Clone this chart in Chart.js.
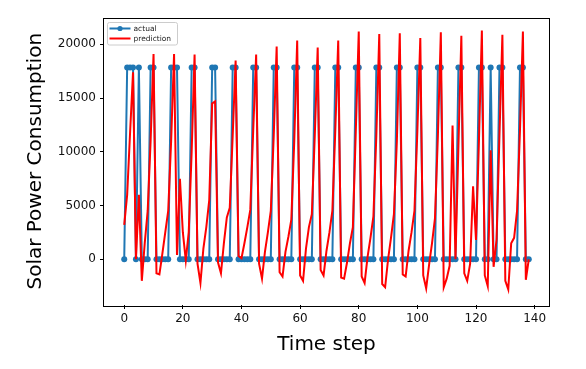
<!DOCTYPE html>
<html>
<head>
<meta charset="utf-8">
<script src="https://cdn.jsdelivr.net/npm/chart.js@4.4.1/dist/chart.umd.min.js"></script>
<style>
  body { margin: 0; background: #fff; }
</style>
</head>
<body>
<canvas id="solar_chart" width="586" height="369"></canvas>
<script>
// values, one per time step (0..138)
var actual = [
  0, 17850, 17850, 17850, 0, 17850, 0, 0, 0, 17850,
  17850, 0, 0, 0, 0, 0, 17850, 17850, 17850, 0,
  0, 0, 0, 17850, 17850, 0, 0, 0, 0, 0,
  17850, 17850, 0, 0, 0, 0, 0, 17850, 17850, 0,
  0, 0, 0, 0, 17850, 17850, 0, 0, 0, 0,
  0, 17850, 17850, 0, 0, 0, 0, 0, 17850, 17850,
  0, 0, 0, 0, 0, 17850, 17850, 0, 0, 0,
  0, 0, 17850, 17850, 0, 0, 0, 0, 0, 17850,
  17850, 0, 0, 0, 0, 0, 17850, 17850, 0, 0,
  0, 0, 0, 17850, 17850, 0, 0, 0, 0, 0,
  17850, 17850, 0, 0, 0, 0, 0, 17850, 17850, 0,
  0, 0, 0, 0, 17850, 17850, 0, 0, 0, 0,
  0, 17850, 17850, 0, 0, 17850, 0, 0, 17850, 17850,
  0, 0, 0, 0, 0, 17850, 17850, 0, 0
];
var prediction = [
  3200, 6000, 11800, 17400, 0, 6000, -2000, 1500, 4500, 11000,
  19100, -1300, -1400, 500, 2500, 4500, 11000, 19100, 400, 7500,
  2500, -100, 2500, 10000, 19050, -400, -2200, 1000, 3000, 5500,
  14500, 14700, -300, -1300, 1500, 3900, 4800, 11500, 18500, 300,
  100, 1500, 3000, 4600, 12000, 19050, -400, -1800, 700, 2500,
  4500, 11500, 19800, -1200, -1600, 700, 2100, 3700, 11000, 20350,
  -1500, -2000, 1000, 3000, 4200, 11500, 19700, -1000, -1500, 800,
  2500, 4500, 12000, 20350, -1700, -1800, -300, 1500, 3000, 12000,
  21200, -1600, -2200, 200, 2000, 4000, 11500, 20970, -2300, -2600,
  0, 2000, 4200, 11000, 21030, -1400, -1600, 800, 2500, 4500,
  12000, 20600, -1500, -2700, -500, 1500, 3800, 11500, 21120, -2600,
  -1800, -600, 12460, 0, 10500, 20800, -1300, -2000, -400, 6800,
  1800, 11000, 21280, -1500, -2500, 10140, -700, 1800, 11500, 20900,
  -2000, -2800, 1500, 2000, 4500, 12000, 21200, -1900, 0
];
var seriesNames = ["actual", "prediction"];
var xTicks = [0, 20, 40, 60, 80, 100, 120, 140];
var yTicks = [0, 5000, 10000, 15000, 20000];

function toPoints(values){
	return values.map(function(v, i){ return {x: i, y: v}; });
}

// matplotlib style frame + legend box in the upper left corner
var frameAndLegend = {
	id: "frameAndLegend",
	afterDatasetsDraw: function(chart){
		var ctx = chart.ctx;
		var area = chart.chartArea;
		ctx.save();
		ctx.strokeStyle = "#000";
		ctx.lineWidth = 1;
		ctx.strokeRect(Math.round(area.left) - 0.5, Math.round(area.top) + 0.5,
			Math.round(area.right - area.left) + 1, Math.round(area.bottom - area.top));

		var bx = area.left + 3.5, by = area.top + 5;
		ctx.fillStyle = "rgba(255,255,255,0.8)";
		ctx.strokeStyle = "#cccccc";
		ctx.beginPath();
		ctx.roundRect(bx, by, 70, 22.5, 2);
		ctx.fill();
		ctx.stroke();

		ctx.font = "7.5px 'DejaVu Sans'";
		ctx.textBaseline = "middle";
		chart.data.datasets.forEach(function(ds, i){
			var ly = by + 6 + i * 10;
			ctx.strokeStyle = ds.borderColor;
			ctx.lineWidth = 2;
			ctx.beginPath();
			ctx.moveTo(bx + 2, ly);
			ctx.lineTo(bx + 23, ly);
			ctx.stroke();
			if (ds.pointRadius > 0){
				ctx.fillStyle = ds.pointBackgroundColor;
				ctx.beginPath();
				ctx.arc(bx + 12.5, ly, 2.6, 0, Math.PI * 2);
				ctx.fill();
			}
			ctx.fillStyle = "#222";
			ctx.fillText(ds.label, bx + 26, ly + 0.5);
		});
		ctx.restore();
	}
};

var ctxS = document.getElementById("solar_chart").getContext("2d");

var solarChart = new Chart(ctxS, {
	type: "line",
	data: {
		datasets: [
			{
				label: seriesNames[0],
				data: toPoints(actual),
				borderColor: "#1f77b4",
				borderWidth: 2,
				pointRadius: 3,
				pointBackgroundColor: "#1f77b4",
				pointBorderWidth: 0,
				tension: 0,
				order: 2
			},
			{
				label: seriesNames[1],
				data: toPoints(prediction),
				borderColor: "#ff0000",
				borderWidth: 2,
				pointRadius: 0,
				tension: 0,
				order: 1
			}
		]
	},
	options: {
		responsive: false,
		animation: false,
		layout: {
			padding: {left: 20, right: 37, top: 17.5, bottom: 8}
		},
		plugins: {
			legend: { display: false },
			tooltip: { enabled: false }
		},
		scales: {
			x: {
				type: "linear",
				min: -6.9,
				max: 144.9,
				afterBuildTicks: function(scale){
					scale.ticks = xTicks.map(function(v){ return {value: v}; });
				},
				afterFit: function(scale){ scale.height = 56; },
				grid: { drawOnChartArea: false, drawTicks: true, tickLength: 4, color: "#000" },
				border: { display: false },
				ticks: { padding: 3, color: "#111", font: {family: "DejaVu Sans", size: 12}, maxRotation: 0,
					callback: function(v){ return String(v); } },
				title: { display: true, text: "Time step", color: "#000", font: {family: "DejaVu Sans", size: 20}, padding: 4 }
			},
			y: {
				min: -4250,
				max: 22500,
				afterBuildTicks: function(scale){
					scale.ticks = yTicks.map(function(v){ return {value: v}; });
				},
				afterFit: function(scale){ scale.width = 84; },
				grid: { drawOnChartArea: false, drawTicks: true, tickLength: 4, color: "#000" },
				border: { display: false },
				ticks: { padding: 4, color: "#111", font: {family: "DejaVu Sans", size: 12},
					callback: function(v){ return String(v); } },
				title: { display: true, text: "Solar Power Consumption", color: "#000", font: {family: "DejaVu Sans", size: 20}, padding: 4 }
			}
		}
	},
	plugins: [frameAndLegend]
});
</script>
</body>
</html>
